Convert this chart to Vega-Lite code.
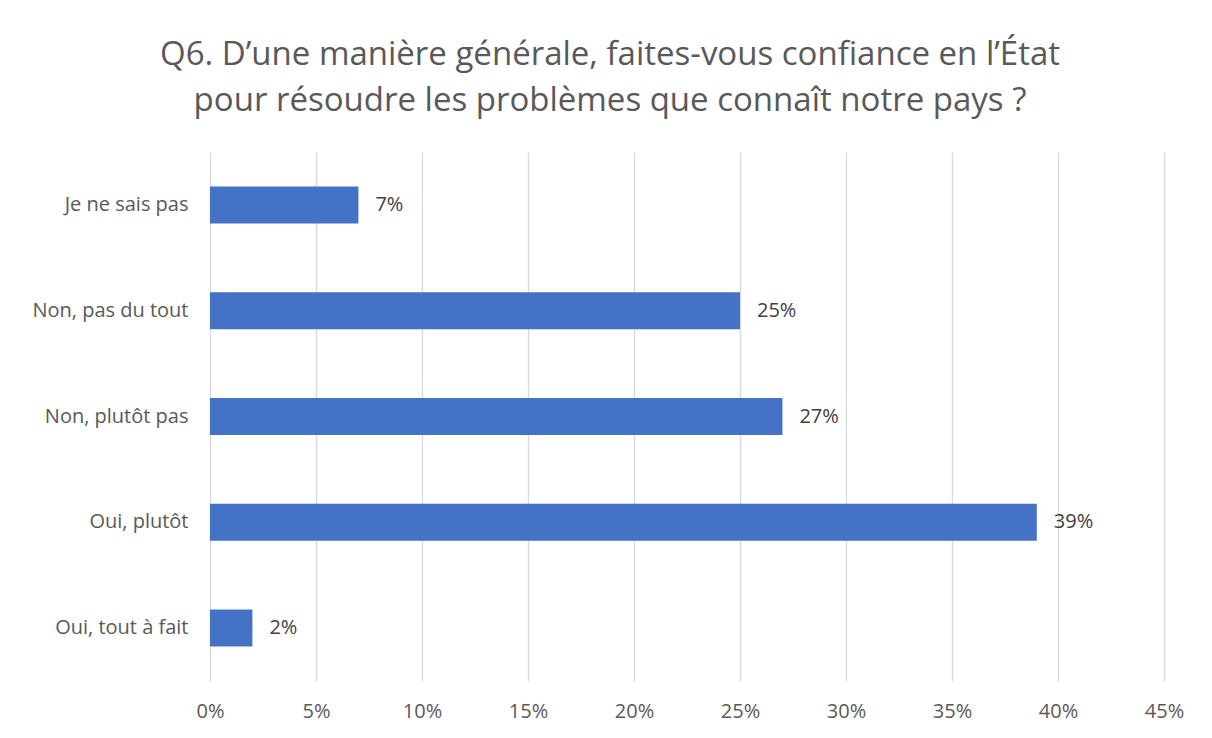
{
  "$schema": "https://vega.github.io/schema/vega-lite/v6.json",
  "width": 954,
  "height": 529,
  "autosize": {"type": "none"},
  "padding": {"left": 210, "top": 152, "right": 48, "bottom": 57},
  "background": "white",
  "title": {
    "text": ["Q6. D’une manière générale, faites-vous confiance en l’État", "pour résoudre les problèmes que connaît notre pays ?"],
    "font": "Open Sans",
    "fontSize": 33,
    "fontWeight": "normal",
    "color": "#595959",
    "anchor": "middle",
    "dx": -77,
    "offset": 34,
    "lineHeight": 46
  },
  "data": {
    "values": [
      {"reponse": "Je ne sais pas", "part": 0.07},
      {"reponse": "Non, pas du tout", "part": 0.25},
      {"reponse": "Non, plutôt pas", "part": 0.27},
      {"reponse": "Oui, plutôt", "part": 0.39},
      {"reponse": "Oui, tout à fait", "part": 0.02}
    ]
  },
  "encoding": {
    "y": {
      "field": "reponse",
      "type": "nominal",
      "sort": null,
      "scale": {"paddingInner": 0.65, "paddingOuter": 0.325},
      "axis": {
        "title": null,
        "ticks": false,
        "domain": false,
        "grid": false,
        "labelFont": "Open Sans",
        "labelFontSize": 20,
        "labelColor": "#595959",
        "labelPadding": 22
      }
    },
    "x": {
      "field": "part",
      "type": "quantitative",
      "scale": {"domain": [0, 0.45], "nice": false},
      "axis": {
        "title": null,
        "format": ".0%",
        "values": [0, 0.05, 0.1, 0.15, 0.2, 0.25, 0.3, 0.35, 0.4, 0.45],
        "ticks": false,
        "domain": false,
        "grid": true,
        "gridColor": "#d9d9d9",
        "gridWidth": 1.3,
        "labelFlush": false,
        "labelFont": "Open Sans",
        "labelFontSize": 20,
        "labelColor": "#595959",
        "labelPadding": 20
      }
    }
  },
  "layer": [
    {"mark": {"type": "bar", "color": "#4472C4"}},
    {
      "mark": {"type": "text", "align": "left", "dx": 17, "font": "Open Sans", "fontSize": 20, "color": "#404040"},
      "encoding": {"text": {"field": "part", "type": "quantitative", "format": ".0%"}}
    }
  ],
  "config": {"view": {"stroke": null}}
}
